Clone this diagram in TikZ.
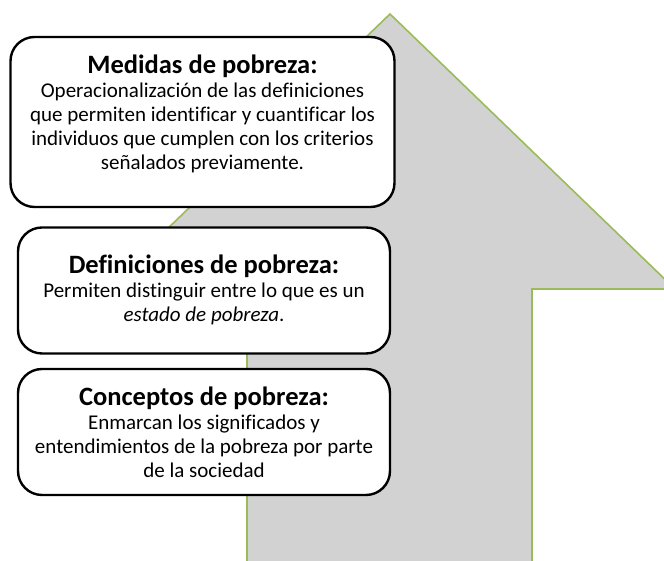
\documentclass[tikz,border=0pt]{standalone}
\usepackage{fontspec}
\setmainfont[Ligatures=NoCommon]{Carlito}
\definecolor{arrowgray}{RGB}{210,210,210}
\definecolor{arrowgreen}{RGB}{155,187,89}
\begin{document}
\begin{tikzpicture}[x=1pt,y=1pt,
  infobox/.style={draw=black, line width=2.4pt, fill=white, rounded corners=24pt, inner sep=0pt},
  infotext/.style={align=center, inner sep=0pt, font=\fontsize{21}{24}\selectfont}]
\newcommand{\boxtitle}[1]{{\fontsize{26.5}{26}\selectfont\bfseries #1}}
\useasboundingbox (0,0) rectangle (664,561);
\begin{scope}
\clip (0,0) rectangle (664,561);
\draw[arrowgreen, line width=1.6pt, fill=arrowgray, line join=miter]
  (390,547) -- (675,272) -- (532,272) -- (532,-10) -- (247,-10) -- (247,272) -- (105,272) -- cycle;
\end{scope}
% boxes
\node[infobox, minimum width=384pt, minimum height=170pt] (b1) at (202.5,439) {};
\node[infobox, minimum width=372pt, minimum height=126pt] (b2) at (204,270.5) {};
\node[infobox, minimum width=372pt, minimum height=126pt] (b3) at (204,129) {};
% texts
\node[infotext] (t1) at (202.5,447.5) {\boxtitle{Medidas de pobreza:}\\
Operacionalización de las definiciones\\
que permiten identificar y cuantificar los\\
individuos que cumplen con los criterios\\
señalados previamente.};
\node[infotext] (t2) at (204,271) {\boxtitle{Definiciones de pobreza:}\\
Permiten distinguir entre lo que es un\\
\textit{estado de pobreza}.};
\node[infotext] (t3) at (204,128.5) {\boxtitle{Conceptos de pobreza:}\\
Enmarcan los significados y\\
entendimientos de la pobreza por parte\\
de la sociedad};
\end{tikzpicture}
\end{document}
